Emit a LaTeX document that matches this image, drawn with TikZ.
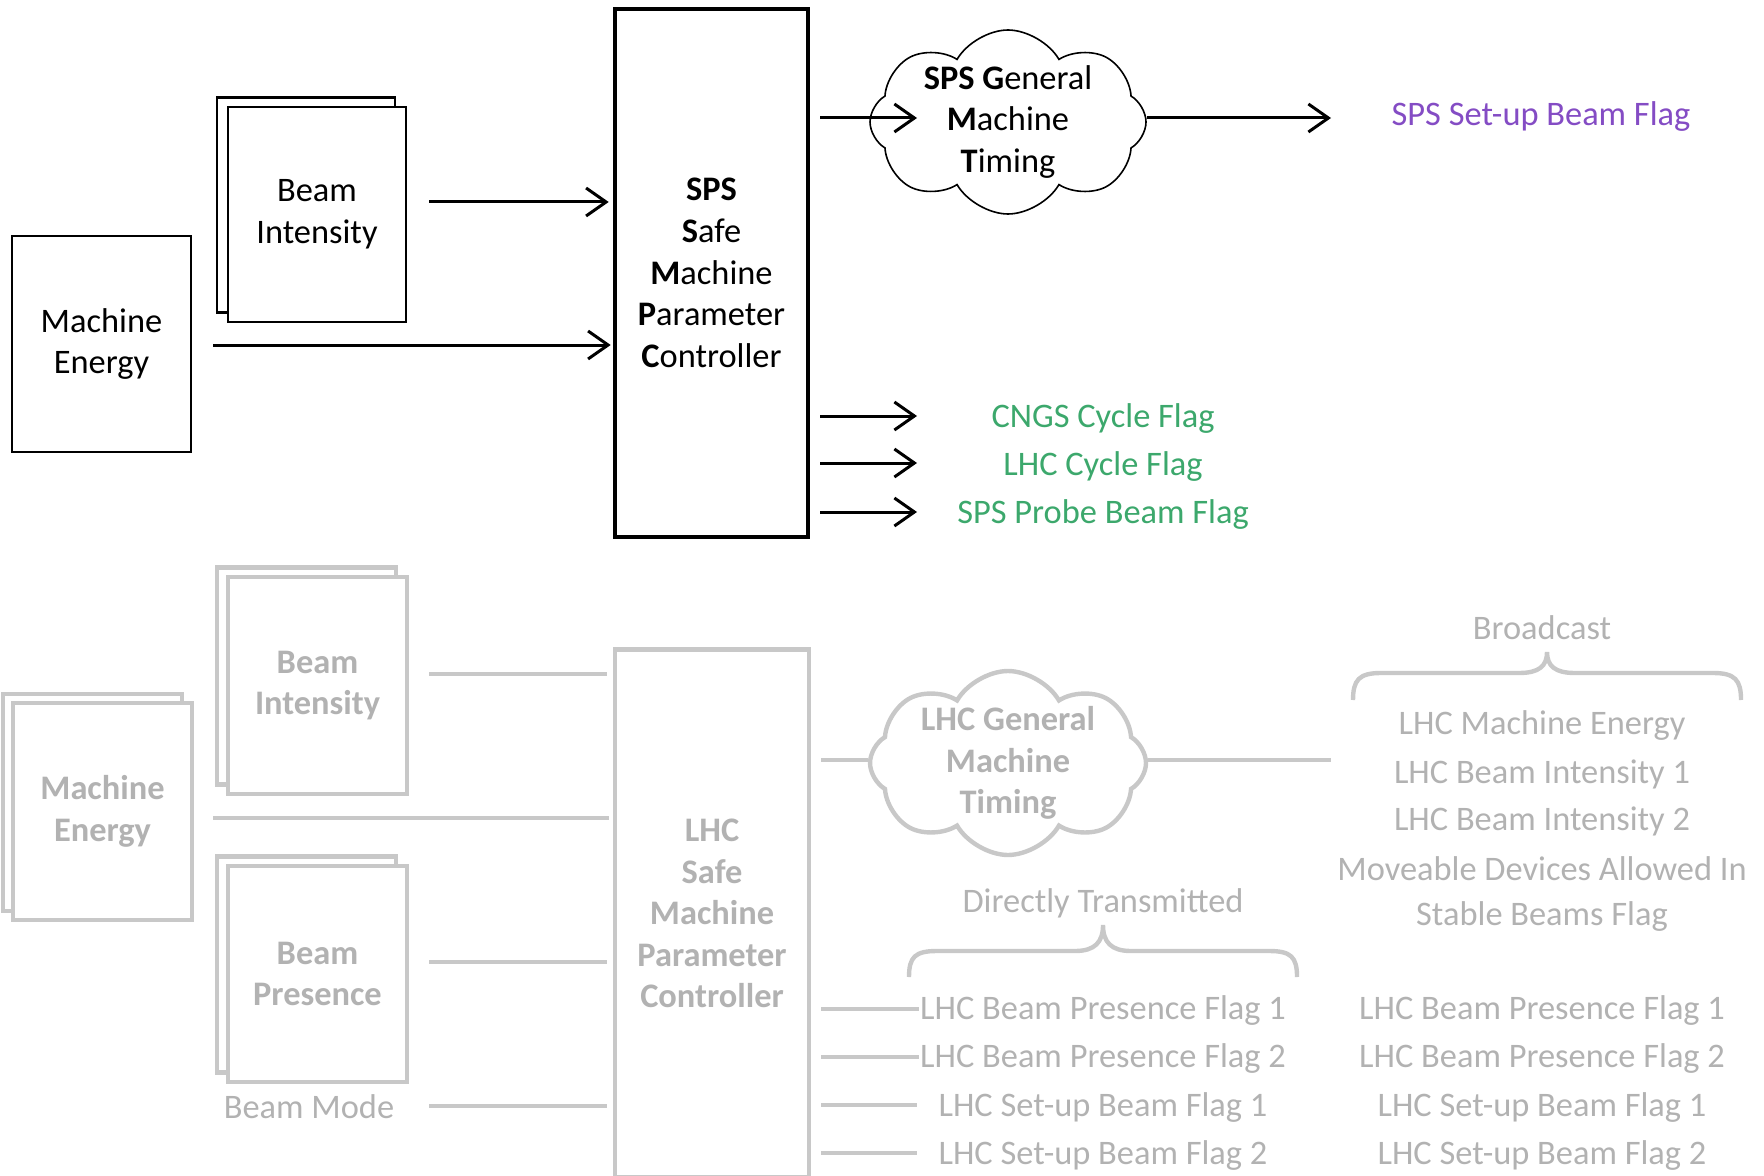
\documentclass[tikz,border=0pt]{standalone}
\usepackage{fontspec}
\setmainfont{Carlito}
\usetikzlibrary{shapes.symbols,arrows.meta,calc}
\definecolor{lg}{RGB}{200,200,200}
\definecolor{tg}{RGB}{178,178,178}
\definecolor{pu}{RGB}{132,76,196}
\definecolor{gn}{RGB}{60,168,108}
\tikzset{
  base/.style={font=\fontsize{17.2}{20.8}\selectfont, align=center, inner sep=0pt},
  blk/.style={base, draw=black, line width=1.4pt, fill=white},
  gbox/.style={base, draw=lg, line width=2.2pt, fill=white, text=tg, font=\fontsize{17.2}{20.8}\selectfont\bfseries},
  arr/.style={line width=1.5pt, -{Straight Barb[length=10pt,width=14pt]}},
  gline/.style={draw=lg, line width=2.3pt},
  glabel/.style={base, text=tg},
  cloudshape/.style={cloud, cloud puffs=8, cloud puff arc=120, shape border rotate=22.5, cloud ignores aspect, fill=white, inner sep=0pt,
    minimum width=138pt, minimum height=92pt},
}
\begin{document}
\begin{tikzpicture}[x=0.5pt,y=-0.5pt]
\useasboundingbox (0,0) rectangle (1764,1176);

% ---------------- SPS part ----------------
\node[blk, minimum width=89.5pt, minimum height=108pt] (me1) at (101.5,344) {Machine\\Energy};
\node[blk, minimum width=89pt, minimum height=107.5pt] (bi1b) at (306,205) {};
\node[blk, minimum width=89pt, minimum height=107.5pt] (bi1) at (317,214.5) {Beam\\Intensity};
\node[base, draw=black, line width=2.3pt, minimum width=96.5pt, minimum height=264pt] (smpc1) at (711.5,273)
  {\textbf{SPS}\\\textbf{S}afe\\\textbf{M}achine\\\textbf{P}arameter\\\textbf{C}ontroller};
\node[cloudshape, draw=black, line width=0.8pt] (cl1) at (1008,122) {};
\node[base] (cl1t) at (1008,122) {\textbf{SPS G}eneral\\\textbf{M}achine\\\textbf{T}iming};

\coordinate (a1s) at (429,202);
\coordinate (a2s) at (213,345);
\draw[arr, shorten >=2pt] (a1s) -- (a1s -| smpc1.west);
\draw[arr, shorten >=1pt] (a2s) -- (a2s -| smpc1.west);

\coordinate (c1in) at (917,118);
\coordinate (c1out) at (1331,118);
\draw[arr, shorten <=5pt] (smpc1.east |- c1in) -- (c1in);
\draw[arr] (cl1.east |- c1out) -- (c1out);
\node[base, text=pu] (sb) at (1541,117) {SPS Set-up Beam Flag};

\node[base, text=gn] (cn) at (1103,419) {CNGS Cycle Flag};
\node[base, text=gn] (lc) at (1103,467) {LHC Cycle Flag};
\node[base, text=gn] (pb) at (1103,515) {SPS Probe Beam Flag};
\coordinate (g1) at (917,416);
\coordinate (g2) at (917,463);
\coordinate (g3) at (917,512);
\draw[arr, shorten <=5pt] (smpc1.east |- g1) -- (g1);
\draw[arr, shorten <=5pt] (smpc1.east |- g2) -- (g2);
\draw[arr, shorten <=5pt] (smpc1.east |- g3) -- (g3);

% ---------------- LHC part ----------------
\node[gbox, minimum width=89.5pt, minimum height=108.5pt] (me2b) at (92.5,802.5) {};
\node[gbox, minimum width=89.5pt, minimum height=108.5pt] (me2) at (102.5,811.5) {Machine\\Energy};
\node[gbox, minimum width=89.5pt, minimum height=108.5pt] (bi2b) at (306.5,676) {};
\node[gbox, minimum width=89.5pt, minimum height=108.5pt] (bi2) at (317.5,685.5) {Beam\\Intensity};
\node[gbox, minimum width=89.5pt, minimum height=108pt] (bp2b) at (306.5,964.5) {};
\node[gbox, minimum width=89.5pt, minimum height=108pt] (bp2) at (317.5,974) {Beam\\Presence};
\node[glabel] (bm) at (309,1107) {Beam Mode};

\node[gbox, minimum width=97pt, minimum height=264pt] (lsmpc) at (712,913.5)
  {LHC\\Safe\\Machine\\Parameter\\Controller};

\coordinate (l1s) at (429,674);
\coordinate (l2s) at (213,818);
\coordinate (l3s) at (429,962);
\coordinate (l4s) at (429,1106);
\draw[gline, shorten >=3pt] (l1s) -- (l1s -| lsmpc.west);
\draw[gline, shorten >=2pt] (l2s) -- (l2s -| lsmpc.west);
\draw[gline, shorten >=3pt] (l3s) -- (l3s -| lsmpc.west);
\draw[gline, shorten >=3pt] (l4s) -- (l4s -| lsmpc.west);

\node[cloudshape, draw=lg, line width=2.2pt] (cl2) at (1008,763) {};
\node[base, text=tg, font=\fontsize{17.2}{20.8}\selectfont\bfseries] (cl2t) at (1008,763)
  {LHC General\\Machine\\Timing};
\coordinate (c2out) at (1331,760);
\draw[gline, shorten <=5pt] (lsmpc.east |- c2out) -- (c2out -| cl2.west);
\draw[gline] (cl2.east |- c2out) -- (c2out);

% Broadcast
\node[glabel] (bc) at (1542,628) {Broadcast};
\draw[lg, line width=2.2pt] (1353,700) .. controls (1353,680) and (1359,673) .. (1381,673)
  -- (1519,673) .. controls (1539,673) and (1547,666) .. (1547,652)
  .. controls (1547,666) and (1555,673) .. (1575,673)
  -- (1713,673) .. controls (1735,673) and (1741,680) .. (1741,700);
\node[glabel] (b1) at (1542,726) {LHC Machine Energy};
\node[glabel] (b2) at (1542,774) {LHC Beam Intensity 1};
\node[glabel] (b3) at (1542,821) {LHC Beam Intensity 2};
\node[glabel] (b4) at (1542,869) {Moveable Devices Allowed In};
\node[glabel] (b5) at (1542,917) {Stable Beams Flag};

% Directly transmitted
\node[glabel] (dt) at (1103,903) {Directly Transmitted};
\draw[lg, line width=2.2pt] (909,977) .. controls (909,957) and (915,951) .. (937,951)
  -- (1075,951) .. controls (1095,951) and (1103,942) .. (1103,925)
  .. controls (1103,942) and (1111,951) .. (1131,951)
  -- (1269,951) .. controls (1291,951) and (1297,957) .. (1297,977);
\node[glabel] (d1) at (1103,1011) {LHC Beam Presence Flag 1};
\node[glabel] (d2) at (1103,1059) {LHC Beam Presence Flag 2};
\node[glabel] (d3) at (1103,1107) {LHC Set-up Beam Flag 1};
\node[glabel] (d4) at (1103,1155) {LHC Set-up Beam Flag 2};
\coordinate (e1) at (919,1009);
\coordinate (e2) at (919,1057);
\coordinate (e3) at (917,1105);
\coordinate (e4) at (917,1153);
\draw[gline, shorten <=5pt] (lsmpc.east |- e1) -- (e1);
\draw[gline, shorten <=5pt] (lsmpc.east |- e2) -- (e2);
\draw[gline, shorten <=5pt] (lsmpc.east |- e3) -- (e3);
\draw[gline, shorten <=5pt] (lsmpc.east |- e4) -- (e4);

\node[glabel] (r1) at (1542,1011) {LHC Beam Presence Flag 1};
\node[glabel] (r2) at (1542,1059) {LHC Beam Presence Flag 2};
\node[glabel] (r3) at (1542,1107) {LHC Set-up Beam Flag 1};
\node[glabel] (r4) at (1542,1155) {LHC Set-up Beam Flag 2};
\end{tikzpicture}
\end{document}
